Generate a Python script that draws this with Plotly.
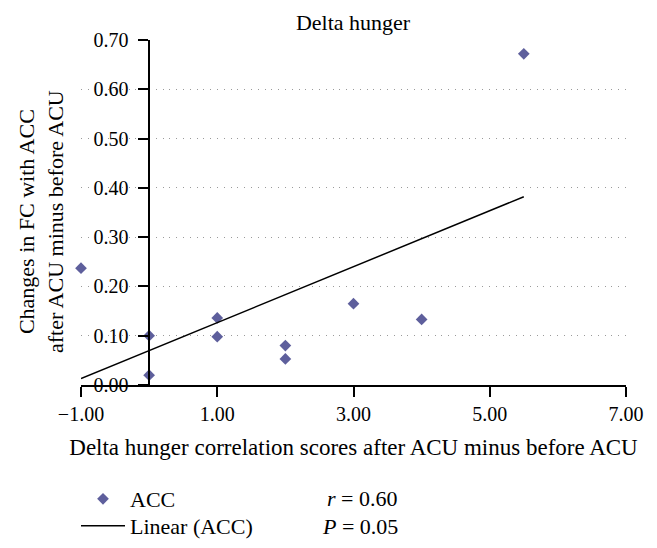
import plotly.graph_objects as go

# Data
acc_x = [-1.0, 0.0, 0.0, 1.0, 1.0, 2.0, 2.0, 3.0, 4.0, 5.5]
acc_y = [0.237, 0.100, 0.020, 0.136, 0.098, 0.080, 0.053, 0.165, 0.133, 0.672]
trend_x = [-1.0, 5.5]
trend_y = [0.013, 0.382]
x_ticks = [-1, 1, 3, 5, 7]
y_ticks = [0.0, 0.1, 0.2, 0.3, 0.4, 0.5, 0.6, 0.7]

FONT = "Liberation Serif"
OFF = 8  # page body margin
W, H = 657 - OFF, 548 - OFF
L, R, T, B = 81 - OFF, 31, 40 - OFF, 163
PW, PH = W - L - R, H - T - B


def px(page_x):
    return (page_x - OFF - L) / PW


def py(page_y):
    return (H - B - (page_y - OFF)) / PH


fig = go.Figure()
fig.add_trace(go.Scatter(
    x=acc_x, y=acc_y, mode="markers", name="ACC",
    marker=dict(symbol="diamond", size=9, color="#5e5f9c"),
    cliponaxis=False, legend="legend",
))
fig.add_trace(go.Scatter(
    x=trend_x, y=trend_y, mode="lines", name="Linear (ACC)",
    line=dict(color="black", width=1.5),
    cliponaxis=False, legend="legend2",
))

legend_common = dict(xanchor="left", yanchor="middle", bgcolor="rgba(0,0,0,0)",
                     itemwidth=44, font=dict(size=22))

fig.update_layout(
    width=W, height=H,
    margin=dict(l=L, r=R, t=T, b=B, autoexpand=False),
    paper_bgcolor="white", plot_bgcolor="white",
    font=dict(family=FONT, size=22, color="black"),
    title=dict(text="Delta hunger", x=(353 - OFF) / W, xanchor="center",
               y=1 - (22 - OFF) / H, yanchor="middle", font=dict(size=22)),
    xaxis=dict(
        range=[-1, 7], tickvals=x_ticks, tickformat=".2f",
        showline=True, linecolor="black", linewidth=1.5,
        ticks="outside", ticklen=10, tickwidth=1.5, tickcolor="black",
        tickfont=dict(size=20), automargin=False,
        showgrid=False, zeroline=False,
        title=dict(text="Delta hunger correlation scores after ACU minus before ACU",
                   standoff=15, font=dict(size=23)),
    ),
    yaxis=dict(
        range=[0, 0.70], tickvals=y_ticks, tickformat=".2f",
        anchor="free", position=1 / 8, automargin=False,
        showline=True, linecolor="black", linewidth=1.5,
        ticks="outside", ticklen=10, tickwidth=1.5, tickcolor="black",
        tickfont=dict(size=20), ticklabelstandoff=6,
        showgrid=True, gridcolor="#9a9a9a", griddash="1px,5.8px", gridwidth=1,
        zeroline=False,
    ),
    showlegend=True,
    legend=dict(x=px(76), y=py(499), **legend_common),
    legend2=dict(x=px(76), y=py(526), **legend_common),
    annotations=[
        dict(text="Changes in FC with ACC<br>after ACU minus before ACU",
             textangle=-90, xref="paper", yref="paper",
             x=px(41), y=py(222),
             xanchor="center", yanchor="middle", showarrow=False,
             font=dict(size=22)),
        dict(text="<i>r</i> = 0.60", xref="paper", yref="paper",
             x=px(325), y=py(499),
             xanchor="left", yanchor="middle", showarrow=False),
        dict(text="<i>P</i> = 0.05", xref="paper", yref="paper",
             x=px(320), y=py(526),
             xanchor="left", yanchor="middle", showarrow=False),
    ],
)

fig.write_html("out.html")
